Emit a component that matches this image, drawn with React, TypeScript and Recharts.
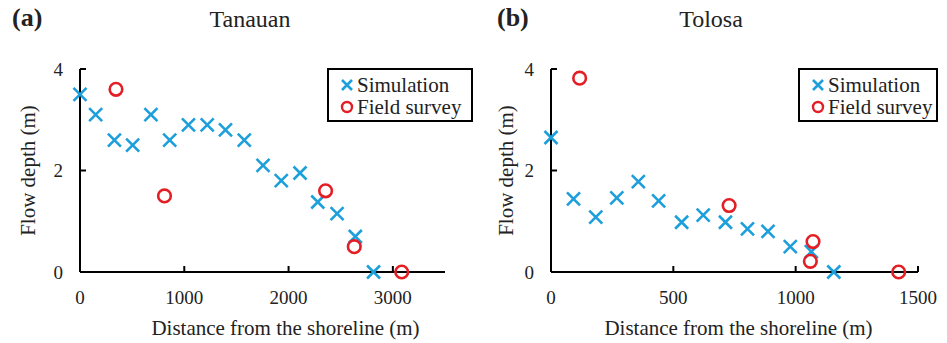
import { ScatterChart, Scatter, XAxis, YAxis, Legend, Label } from 'recharts';

const tanauanSimulation = [
  { x: 0, y: 3.5 }, { x: 150, y: 3.1 }, { x: 330, y: 2.6 }, { x: 505, y: 2.5 },
  { x: 680, y: 3.1 }, { x: 860, y: 2.6 }, { x: 1040, y: 2.9 }, { x: 1220, y: 2.9 },
  { x: 1395, y: 2.8 }, { x: 1575, y: 2.6 }, { x: 1755, y: 2.1 }, { x: 1930, y: 1.8 },
  { x: 2110, y: 1.95 }, { x: 2280, y: 1.38 }, { x: 2465, y: 1.15 }, { x: 2640, y: 0.7 },
  { x: 2815, y: 0 },
];
const tanauanField = [
  { x: 345, y: 3.6 }, { x: 810, y: 1.5 }, { x: 2355, y: 1.6 }, { x: 2630, y: 0.5 }, { x: 3085, y: 0 },
];
const tolosaSimulation = [
  { x: 0, y: 2.65 }, { x: 92, y: 1.44 }, { x: 183, y: 1.08 }, { x: 269, y: 1.46 },
  { x: 357, y: 1.78 }, { x: 440, y: 1.4 }, { x: 534, y: 0.98 }, { x: 622, y: 1.12 },
  { x: 713, y: 0.98 }, { x: 803, y: 0.85 }, { x: 887, y: 0.8 }, { x: 978, y: 0.5 },
  { x: 1064, y: 0.4 }, { x: 1156, y: 0 },
];
const tolosaField = [
  { x: 117, y: 3.82 }, { x: 728, y: 1.31 }, { x: 1071, y: 0.6 }, { x: 1060, y: 0.21 }, { x: 1421, y: 0 },
];
const tanauanTicks = [0, 1000, 2000, 3000];
const tolosaTicks = [0, 500, 1000, 1500];
const depthTicks = [0, 2, 4];

const BLUE = '#1d9fdb';
const RED = '#e31e24';
const FONT = '"Liberation Serif", "Times New Roman", serif';

const CrossShape = (props: any) => {
  const { cx, cy } = props;
  const r = 6.5;
  return (
    <path
      d={`M${cx - r},${cy - r}L${cx + r},${cy + r}M${cx - r},${cy + r}L${cx + r},${cy - r}`}
      stroke={BLUE}
      strokeWidth={2.6}
      fill="none"
    />
  );
};

const CircleShape = (props: any) => {
  const { cx, cy } = props;
  return <circle cx={cx} cy={cy} r={6.3} stroke={RED} strokeWidth={2.6} fill="none" />;
};

const LegendBox = ({ width }: { width: number }) => (
  <div
    style={{
      width,
      height: 54,
      border: '2px solid #000',
      boxSizing: 'border-box',
      padding: '4px 0 0 11px',
      fontFamily: FONT,
      fontSize: 21,
      color: '#222',
    }}
  >
    <div style={{ display: 'flex', alignItems: 'center', height: 22 }}>
      <svg width={14} height={14} style={{ marginRight: 3 }}>
        <path d="M2,2L12,12M2,12L12,2" stroke={BLUE} strokeWidth={2.6} fill="none" />
      </svg>
      Simulation
    </div>
    <div style={{ display: 'flex', alignItems: 'center', height: 22 }}>
      <svg width={14} height={14} style={{ marginRight: 3 }}>
        <circle cx={7} cy={7} r={5} stroke={RED} strokeWidth={2.4} fill="none" />
      </svg>
      Field survey
    </div>
  </div>
);

function Panel({
  width, sim, field, xMax, xTicks, leftMargin, yWidth, rightMargin, yLabelOffset, xLabelDx, legendLeft, legendWidth,
}: any) {
  const tick = { fill: '#222', fontSize: 19, fontFamily: FONT };
  return (
    <ScatterChart
      width={width}
      height={343}
      margin={{ top: 69, right: rightMargin, bottom: 41, left: leftMargin }}
    >
      <XAxis
        type="number"
        dataKey="x"
        domain={[0, xMax]}
        ticks={xTicks}
        height={30}
        tickSize={-6}
        tickMargin={25}
        axisLine={{ stroke: '#000', strokeWidth: 2 }}
        tickLine={{ stroke: '#000', strokeWidth: 2 }}
        tick={tick}
      >
        <Label
          value="Distance from the shoreline (m)"
          position="bottom"
          offset={18}
          dx={xLabelDx}
          style={{ fill: '#222', fontSize: 21, fontFamily: FONT }}
        />
      </XAxis>
      <YAxis
        type="number"
        dataKey="y"
        domain={[0, 4]}
        ticks={depthTicks}
        width={yWidth}
        tickSize={-6}
        tickMargin={23}
        axisLine={{ stroke: '#000', strokeWidth: 2 }}
        tickLine={{ stroke: '#000', strokeWidth: 2 }}
        tick={tick}
      >
        <Label
          value="Flow depth (m)"
          angle={-90}
          position="insideLeft"
          offset={yLabelOffset}
          style={{ textAnchor: 'middle', fill: '#222', fontSize: 21, fontFamily: FONT }}
        />
      </YAxis>
      <Legend
        layout="horizontal"
        align="center"
        verticalAlign="middle"
        wrapperStyle={{ left: legendLeft, top: 68, width: legendWidth, height: 54 }}
        content={() => <LegendBox width={legendWidth} />}
      />
      <Scatter name="Simulation" data={sim} shape={CrossShape} isAnimationActive={false} />
      <Scatter name="Field survey" data={field} shape={CircleShape} isAnimationActive={false} />
    </ScatterChart>
  );
}

export default function App() {
  return (
    <div
      style={{
        position: 'absolute',
        left: 0,
        top: 0,
        width: 947,
        height: 343,
        background: '#fff',
        fontFamily: FONT,
        color: '#222',
      }}
    >
      <div style={{ position: 'absolute', left: 12, top: 3, fontSize: 26, fontWeight: 'bold' }}>(a)</div>
      <div style={{ position: 'absolute', left: 150, width: 200, textAlign: 'center', top: 6, fontSize: 24 }}>Tanauan</div>
      <div style={{ position: 'absolute', left: 497, top: 3, fontSize: 26, fontWeight: 'bold' }}>(b)</div>
      <div style={{ position: 'absolute', left: 611, width: 200, textAlign: 'center', top: 6, fontSize: 24 }}>Tolosa</div>
      <div style={{ position: 'absolute', left: 0, top: 0 }}>
        <Panel
          width={473}
          sim={tanauanSimulation}
          field={tanauanField}
          xMax={3500}
          xTicks={tanauanTicks}
          leftMargin={10}
          yWidth={70}
          rightMargin={28}
          yLabelOffset={18}
          xLabelDx={23}
          legendLeft={327}
          legendWidth={146}
        />
      </div>
      <div style={{ position: 'absolute', left: 473, top: 0 }}>
        <Panel
          width={474}
          sim={tolosaSimulation}
          field={tolosaField}
          xMax={1500}
          xTicks={tolosaTicks}
          leftMargin={10}
          yWidth={68}
          rightMargin={29}
          yLabelOffset={23}
          xLabelDx={4}
          legendLeft={325}
          legendWidth={140}
        />
      </div>
    </div>
  );
}
